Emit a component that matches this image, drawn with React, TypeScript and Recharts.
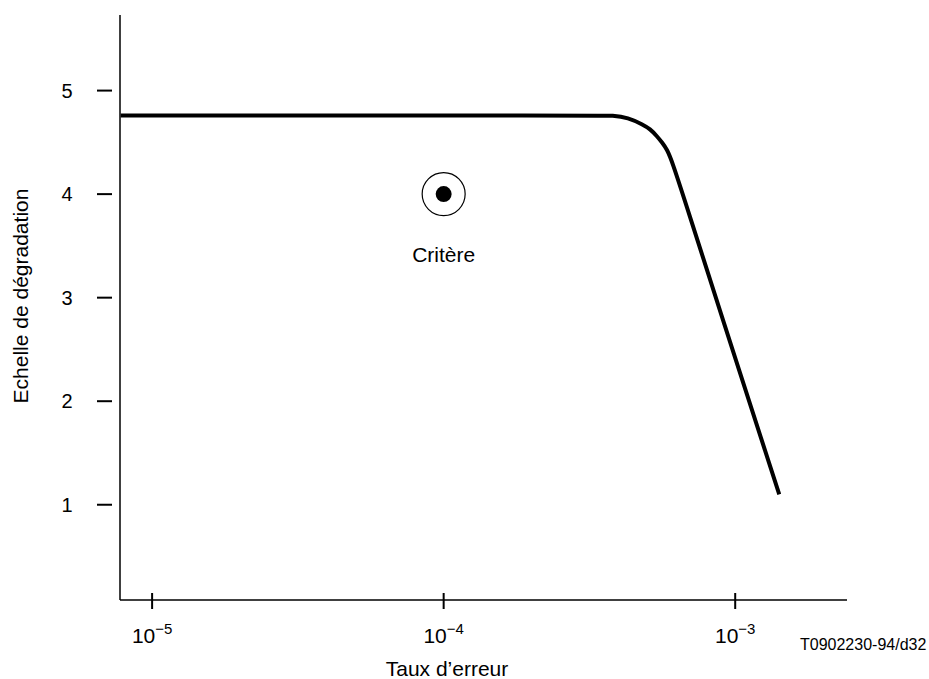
import { ComposedChart, Line, Scatter, XAxis, YAxis, Label } from "recharts";

const FONT = "'Liberation Sans', Arial, Helvetica, sans-serif";

// degradation curve (error rate vs. grade)
const errorRates = [
  7.8e-6, 3.44e-4, 3.78e-4, 4.29e-4, 4.83e-4, 5.1e-4, 5.39e-4, 5.61e-4, 5.84e-4, 6.07e-4, 6.84e-4,
  8.87e-4, 1.416e-3,
];
const gradeValues = [4.76, 4.76, 4.76, 4.74, 4.67, 4.63, 4.56, 4.5, 4.43, 4.32, 3.87, 2.87, 1.1];

// criterion point
const criterionRates = [1e-4];
const criterionGrades = [4.0];
const criterionLabels = ["Critère"];

const xTicks = [1e-5, 1e-4, 1e-3];
const yTicks = [1, 2, 3, 4, 5];

const xLabel = "Taux d\u2019erreur";
const yLabel = "Echelle de dégradation";
const figureCode = "T0902230-94/d32";

const curveData = errorRates.map((rate, i) => ({ rate, grade: gradeValues[i] }));
const criterionData = criterionRates.map((rate, i) => ({
  rate,
  grade: criterionGrades[i],
  label: criterionLabels[i],
}));

function XTick(props: any) {
  const { x, y, payload } = props;
  const exp = Math.round(Math.log10(payload.value));
  return (
    <g>
      <line x1={x} x2={x} y1={y - 7} y2={y + 9} stroke="#000" strokeWidth={2} />
      <text x={x} y={y + 43} textAnchor="middle" fontSize={21} fill="#000" fontFamily={FONT}>
        10
        <tspan dy={-9} fontSize={15}>
          {"\u2212" + Math.abs(exp)}
        </tspan>
      </text>
    </g>
  );
}

function YTick(props: any) {
  const { x, y, payload } = props;
  return (
    <g>
      <line x1={x - 23} x2={x - 8} y1={y} y2={y} stroke="#000" strokeWidth={2} />
      <text x={x - 53} y={y + 7} textAnchor="middle" fontSize={20} fill="#000" fontFamily={FONT}>
        {payload.value}
      </text>
    </g>
  );
}

function CriterionShape(props: any) {
  const { cx, cy, payload } = props;
  return (
    <g>
      <circle cx={cx} cy={cy} r={21.5} fill="none" stroke="#000" strokeWidth={1.2} />
      <circle cx={cx} cy={cy} r={8} fill="#000" />
      <text x={cx} y={cy + 68} textAnchor="middle" fontSize={21} fill="#000" fontFamily={FONT}>
        {payload.label}
      </text>
    </g>
  );
}

export default function App() {
  return (
    <div style={{ position: "absolute", left: 0, top: 0, width: 929, height: 679, background: "#fff" }}>
      <ComposedChart width={929} height={679} margin={{ top: 15, right: 82, bottom: 0, left: 0 }}>
        <XAxis
          dataKey="rate"
          type="number"
          scale="log"
          domain={[7.76e-6, 2.418e-3]}
          allowDataOverflow
          ticks={xTicks}
          height={79}
          tickSize={0}
          tickMargin={0}
          tickLine={false}
          axisLine={{ stroke: "#000", strokeWidth: 1.5 }}
          tick={<XTick />}
          interval={0}
        >
          <Label
            content={() => (
              <text x={447} y={676} textAnchor="middle" fontSize={21} fill="#000" fontFamily={FONT}>
                {xLabel}
              </text>
            )}
          />
        </XAxis>
        <YAxis
          dataKey="grade"
          type="number"
          domain={[0.08, 5.73]}
          allowDataOverflow
          ticks={yTicks}
          width={120}
          tickSize={0}
          tickMargin={0}
          tickLine={false}
          axisLine={{ stroke: "#000", strokeWidth: 1.5 }}
          tick={<YTick />}
          interval={0}
        >
          <Label
            content={() => (
              <text
                x={28}
                y={296}
                transform="rotate(-90 28 296)"
                textAnchor="middle"
                fontSize={21}
                fill="#000"
                fontFamily={FONT}
              >
                {yLabel}
              </text>
            )}
          />
        </YAxis>
        <Line
          data={curveData}
          dataKey="grade"
          type="basis"
          stroke="#000"
          strokeWidth={4}
          dot={false}
          activeDot={false}
          isAnimationActive={false}
        />
        <Scatter data={criterionData} dataKey="grade" shape={<CriterionShape />} isAnimationActive={false} />
      </ComposedChart>
      <div
        style={{
          position: "absolute",
          left: 800,
          top: 636,
          fontFamily: FONT,
          fontSize: 16,
          color: "#000",
          whiteSpace: "nowrap",
        }}
      >
        {figureCode}
      </div>
    </div>
  );
}
